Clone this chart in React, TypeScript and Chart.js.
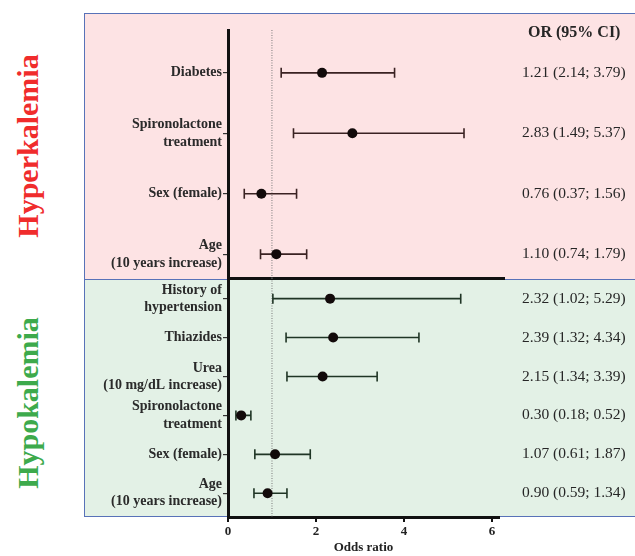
import React, { useEffect, useRef } from "react";
import { Chart, registerables } from "chart.js";

Chart.register(...registerables);

// ---------- data ----------
const hyperLabels: (string | string[])[] = [
  "Diabetes",
  ["Spironolactone", "treatment"],
  "Sex (female)",
  ["Age", "(10 years increase)"],
];
const hyperOR = [2.14, 2.83, 0.76, 1.1];
const hyperLow = [1.21, 1.49, 0.37, 0.74];
const hyperHigh = [3.79, 5.37, 1.56, 1.79];
const hyperText = [
  "1.21 (2.14; 3.79)",
  "2.83 (1.49; 5.37)",
  "0.76 (0.37; 1.56)",
  "1.10 (0.74; 1.79)",
];

const hypoLabels: (string | string[])[] = [
  ["History of", "hypertension"],
  "Thiazides",
  ["Urea", "(10 mg/dL increase)"],
  ["Spironolactone", "treatment"],
  "Sex (female)",
  ["Age", "(10 years increase)"],
];
const hypoOR = [2.32, 2.39, 2.15, 0.3, 1.07, 0.9];
const hypoLow = [1.02, 1.32, 1.34, 0.18, 0.61, 0.59];
const hypoHigh = [5.29, 4.34, 3.39, 0.52, 1.87, 1.34];
const hypoText = [
  "2.32 (1.02; 5.29)",
  "2.39 (1.32; 4.34)",
  "2.15 (1.34; 3.39)",
  "0.30 (0.18; 0.52)",
  "1.07 (0.61; 1.87)",
  "0.90 (0.59; 1.34)",
];

const xTicks = [0, 2, 4, 6];
const refValue = 1;
const orHeader = "OR (95% CI)";
const xTitle = "Odds ratio";
const groupTitles = ["Hyperkalemia", "Hypokalemia"];

// ---------- styling ----------
const W = 635;
const H = 556;
const SERIF = "'Liberation Serif', 'Times New Roman', serif";

const forestPlugin = {
  id: "forest",
  beforeDatasetsDraw(chart: any, _args: any, opts: any) {
    const { ctx, chartArea } = chart;
    const xs = chart.scales.x;
    const ys = chart.scales.y;
    ctx.save();
    // reference line
    const rx = xs.getPixelForValue(opts.ref);
    ctx.strokeStyle = "#7a7a7a";
    ctx.lineWidth = 1;
    ctx.setLineDash([1, 1.5]);
    ctx.beginPath();
    ctx.moveTo(rx, chartArea.top);
    ctx.lineTo(rx, chartArea.bottom);
    ctx.stroke();
    ctx.setLineDash([]);
    // error bars
    ctx.strokeStyle = opts.barColor;
    ctx.lineWidth = 1.6;
    opts.low.forEach((lo: number, i: number) => {
      const y = ys.getPixelForValue(i);
      const x1 = xs.getPixelForValue(lo);
      const x2 = xs.getPixelForValue(opts.high[i]);
      ctx.beginPath();
      ctx.moveTo(x1, y);
      ctx.lineTo(x2, y);
      ctx.moveTo(x1, y - 5);
      ctx.lineTo(x1, y + 5);
      ctx.moveTo(x2, y - 5);
      ctx.lineTo(x2, y + 5);
      ctx.stroke();
    });
    ctx.restore();
  },
  afterDraw(chart: any, _args: any, opts: any) {
    const { ctx } = chart;
    const ys = chart.scales.y;
    ctx.save();
    ctx.fillStyle = "#262626";
    ctx.textBaseline = "middle";
    ctx.textAlign = "left";
    ctx.font = `15.5px ${SERIF}`;
    opts.text.forEach((t: string, i: number) => {
      ctx.fillText(t, 522, ys.getPixelForValue(i));
    });
    if (opts.header) {
      ctx.font = `bold 16px ${SERIF}`;
      ctx.fillText(opts.header, 528, 33);
    }
    ctx.restore();
  },
};

function makeConfig(which: "top" | "bottom"): any {
  const top = which === "top";
  const labels = top ? hyperLabels : hypoLabels;
  const or = top ? hyperOR : hypoOR;
  return {
    type: "scatter",
    data: {
      datasets: [
        {
          data: or.map((v, i) => ({ x: v, y: i })),
          pointRadius: 5,
          pointHoverRadius: 5,
          pointBackgroundColor: "#120a0a",
          pointBorderWidth: 0,
        },
      ],
    },
    plugins: [forestPlugin],
    options: {
      animation: false,
      responsive: false,
      maintainAspectRatio: false,
      events: [],
      layout: top
        ? { padding: { left: 0, right: W - 504, top: 30, bottom: H - 278 } }
        : { padding: { left: 0, right: W - 499, top: 278, bottom: 0 } },
      plugins: {
        legend: { display: false },
        tooltip: { enabled: false },
        forest: {
          ref: refValue,
          low: top ? hyperLow : hypoLow,
          high: top ? hyperHigh : hypoHigh,
          text: top ? hyperText : hypoText,
          header: top ? orHeader : null,
          barColor: top ? "#3a2222" : "#1f3525",
        },
      },
      scales: {
        x: {
          type: "linear",
          min: 0,
          max: top ? 6.28 : 6.16,
          afterFit: (s: any) => {
            s.height = top ? 0 : H - 517;
          },
          afterBuildTicks: (s: any) => {
            s.ticks = xTicks.map((v) => ({ value: v }));
          },
          grid: {
            display: !top,
            drawOnChartArea: false,
            drawTicks: true,
            tickLength: 5,
            color: "#111",
            lineWidth: 2,
          },
          border: { display: true, width: 3, color: "#111" },
          ticks: {
            display: !top,
            color: "#222",
            padding: 2,
            font: { family: SERIF, size: 13, weight: "bold" },
          },
          title: {
            display: !top,
            text: xTitle,
            color: "#222",
            padding: { top: 0, bottom: 1 },
            font: { family: SERIF, size: 13, weight: "bold" },
          },
        },
        y: {
          type: "linear",
          reverse: true,
          min: top ? -0.709 : -0.53,
          max: top ? 3.395 : 5.61,
          afterFit: (s: any) => {
            s.width = 228;
          },
          afterBuildTicks: (s: any) => {
            s.ticks = labels.map((_, i) => ({ value: i }));
          },
          grid: {
            display: true,
            drawOnChartArea: false,
            drawTicks: true,
            tickLength: 5,
            color: "#333",
            lineWidth: 1.2,
          },
          border: { display: true, width: 3, color: "#111" },
          ticks: {
            autoSkip: false,
            color: "#2a2a2a",
            padding: 1,
            callback: (v: number) => labels[v],
            font: {
              family: SERIF,
              size: 14,
              weight: "bold",
              lineHeight: top ? 1.3 : 1.22,
            },
          },
        },
      },
    },
  };
}

function ForestCanvas({ which }: { which: "top" | "bottom" }) {
  const ref = useRef<HTMLCanvasElement | null>(null);
  useEffect(() => {
    if (!ref.current) return;
    const chart = new Chart(ref.current, makeConfig(which));
    return () => chart.destroy();
  }, [which]);
  return (
    <canvas
      ref={ref}
      width={W}
      height={H}
      style={{ position: "absolute", left: 0, top: 0, width: W, height: H }}
    />
  );
}

export default function App() {
  const titleStyle = (color: string, cy: number): React.CSSProperties => ({
    position: "absolute",
    left: 28,
    top: cy,
    transform: "translate(-50%, -50%) rotate(-90deg)",
    whiteSpace: "nowrap",
    fontFamily: SERIF,
    fontWeight: "bold",
    fontSize: 30,
    color,
    lineHeight: 1,
  });
  return (
    <div
      style={{
        position: "absolute",
        left: 0,
        top: 0,
        width: W,
        height: H,
        overflow: "hidden",
        background: "#ffffff",
      }}
    >
      <div
        style={{
          position: "absolute",
          left: 84,
          top: 13,
          width: 620,
          height: 266,
          boxSizing: "border-box",
          background: "#fde3e4",
          border: "1.5px solid #5872b8",
          borderBottom: "none",
        }}
      />
      <div
        style={{
          position: "absolute",
          left: 84,
          top: 279,
          width: 620,
          height: 238,
          boxSizing: "border-box",
          background: "#e3f1e6",
          border: "1.5px solid #5872b8",
        }}
      />
      <div style={titleStyle("#f02c2c", 146)}>{groupTitles[0]}</div>
      <div style={titleStyle("#3daa4c", 403)}>{groupTitles[1]}</div>
      <ForestCanvas which="top" />
      <ForestCanvas which="bottom" />
    </div>
  );
}
